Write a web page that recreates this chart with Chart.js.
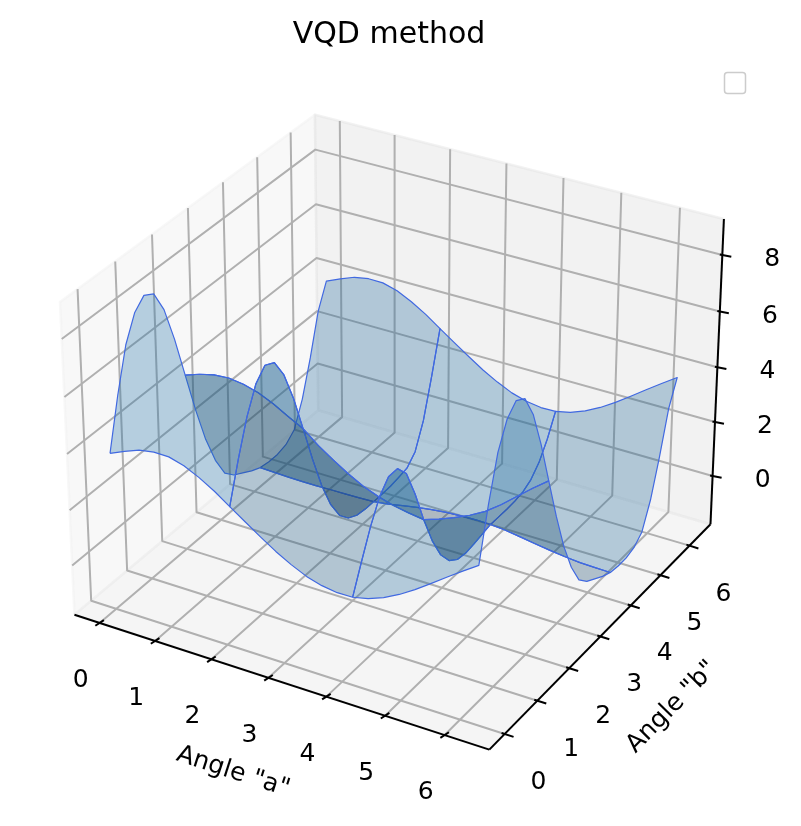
<!DOCTYPE html>
<html><head><meta charset="utf-8">
<script src="https://cdn.jsdelivr.net/npm/chart.js@4.4.0/dist/chart.umd.min.js"></script>
<style>html,body{margin:0;padding:0;background:#fff;overflow:hidden}canvas{display:block}</style>
</head><body>
<div style="width:801px;height:826px"><canvas id="c" width="801" height="826"></canvas></div>
<script>
// ---------------- data ----------------
const titleText = 'VQD method';
const xLabel = 'Angle "a"';
const yLabel = 'Angle "b"';
const xTicks = [0, 1, 2, 3, 4, 5, 6];
const yTicks = [0, 1, 2, 3, 4, 5, 6];
const zTicks = [0, 2, 4, 6, 8];
const xLim = [-0.314, 6.597];
const yLim = [-0.314, 6.597];
const zLim = [-1.59, 9.04];
// sample angles (degrees) along every drawn surface line
const gridDeg = [0,15,30,45,60,75,90,105,120,135,150,165,180,195,210,225,240,255,270,285,300,315,330,345,360];
// z along constant-a lines (a = 0 / 360 deg, 120 deg, 240 deg), as function of b
const zA0   = [3.82,5.6,7.1,7.95,8.3,8.1,7.3,6.0,4.47,2.95,1.6,0.55,-0.2,-0.55,-0.75,-0.95,-1.1,-1.15,-1.15,-1.05,-0.75,0.15,1.45,2.95,3.82];
const zA120 = [3.22,4.60,5.81,6.68,7.07,6.90,6.21,5.12,3.78,2.41,1.17,0.19,-0.49,-0.87,-1.05,-1.10,-1.10,-1.10,-1.08,-1.02,-0.95,-0.6,0.3,1.7,3.22];
const zA240 = [1.35,2.33,3.26,4.02,4.44,4.45,4.0,3.0,1.8,0.75,-0.05,-0.55,-0.8,-0.85,-0.8,-0.72,-0.65,-0.65,-0.65,-0.63,-0.56,-0.38,-0.01,0.58,1.35];
// z along constant-b lines (b = 0 / 360 deg, 120 deg, 240 deg), as function of a
const zB0   = [3.82,4.05,4.25,4.34,4.33,4.18,3.92,3.60,3.22,2.85,2.48,2.13,1.83,1.58,1.42,1.34,1.35,1.47,1.68,1.96,2.30,2.68,3.07,3.45,3.82];
const zB120 = [4.47,4.65,4.78,4.82,4.75,4.60,4.36,4.06,3.78,3.34,2.98,2.64,2.35,2.14,1.98,1.88,1.8,1.98,2.2,2.45,2.75,3.15,3.6,4.05,4.47];
const zB240 = [-1.1,-1.12,-1.14,-1.15,-1.15,-1.14,-1.13,-1.12,-1.1,-1.03,-0.93,-0.83,-0.75,-0.69,-0.66,-0.64,-0.65,-0.70,-0.78,-0.87,-0.95,-1.02,-1.07,-1.09,-1.1];

// ---------------- 3D view (matplotlib-like camera) ----------------
const ELEV = 30, AZIM = -60, DIST = 10;
const S = 4160, CX = 398.1, CY = 417.5;
const ASPECT = [4, 4, 3];
const an = Math.hypot(...ASPECT);
const boxA = ASPECT.map(v => v * 1.8294640721620434 / an);
const R = boxA.map(v => v / 2);
function pane(l){ const d = (l[1]-l[0])/48; return [l[0]-d, l[1]+d]; }
const PX = pane(xLim), PY = pane(yLim), PZ = pane(zLim);
const el = ELEV*Math.PI/180, az = AZIM*Math.PI/180;
const w = [Math.cos(el)*Math.cos(az), Math.cos(el)*Math.sin(az), Math.sin(el)];
let u = [-w[1], w[0], 0]; const un = Math.hypot(...u); u = u.map(x => x/un);
const v = [w[1]*u[2]-w[2]*u[1], w[2]*u[0]-w[0]*u[2], w[0]*u[1]-w[1]*u[0]];
const dot = (a,b) => a[0]*b[0]+a[1]*b[1]+a[2]*b[2];
function proj(x, y, z){
  const p = [(x-PX[0])/(PX[1]-PX[0])*boxA[0]-R[0], (y-PY[0])/(PY[1]-PY[0])*boxA[1]-R[1], (z-PZ[0])/(PZ[1]-PZ[0])*boxA[2]-R[2]];
  const xv = dot(u,p), yv = dot(v,p), wd = dot(w,p);
  const den = DIST - wd;
  return {x: CX + S*xv/den, y: CY - S*yv/den, tz: 10/(wd-DIST)};
}

// ---------------- datasets ----------------
const datasets = [];
function lineDS(pts, color, width, order, extra){
  return Object.assign({data: pts.map(p => ({x:p.x, y:p.y})), showLine:true, pointRadius:0, pointHoverRadius:0,
    borderColor:color, borderWidth:width, backgroundColor:color, fill:false, order:order, tension:0,
    borderJoinStyle:'round', borderCapStyle:'butt'}, extra || {});
}
// panes
function paneDS(corners, col, order){
  const pts = corners.map(c => proj(c[0], c[1], c[2])); pts.push(pts[0]);
  datasets.push(lineDS(pts, col, 2.5, order, {fill:'shape', backgroundColor: col}));
}
paneDS([[PX[0],PY[0],PZ[0]],[PX[0],PY[1],PZ[0]],[PX[0],PY[1],PZ[1]],[PX[0],PY[0],PZ[1]]], 'rgba(242,242,242,0.5)', 1003);
paneDS([[PX[0],PY[1],PZ[0]],[PX[1],PY[1],PZ[0]],[PX[1],PY[1],PZ[1]],[PX[0],PY[1],PZ[1]]], 'rgba(230,230,230,0.5)', 1002);
paneDS([[PX[0],PY[0],PZ[0]],[PX[1],PY[0],PZ[0]],[PX[1],PY[1],PZ[0]],[PX[0],PY[1],PZ[0]]], 'rgba(236,236,236,0.5)', 1001);
// gridlines
const GRID = '#b0b0b0';
xTicks.forEach(t => datasets.push(lineDS([proj(t,PY[0],PZ[0]), proj(t,PY[1],PZ[0]), proj(t,PY[1],PZ[1])], GRID, 2, 900)));
yTicks.forEach(t => datasets.push(lineDS([proj(PX[1],t,PZ[0]), proj(PX[0],t,PZ[0]), proj(PX[0],t,PZ[1])], GRID, 2, 900)));
zTicks.forEach(t => datasets.push(lineDS([proj(PX[0],PY[0],t), proj(PX[0],PY[1],t), proj(PX[1],PY[1],t)], GRID, 2, 900)));
// axis lines
datasets.push(lineDS([proj(PX[0],PY[0],PZ[0]), proj(PX[1],PY[0],PZ[0])], '#000', 2, 800));
datasets.push(lineDS([proj(PX[1],PY[0],PZ[0]), proj(PX[1],PY[1],PZ[0])], '#000', 2, 800));
datasets.push(lineDS([proj(PX[1],PY[1],PZ[0]), proj(PX[1],PY[1],PZ[1])], '#000', 2, 800));
// tick marks
function seg(p, a, b){ return [{x:p.x+a[0], y:p.y+a[1]}, {x:p.x+b[0], y:p.y+b[1]}]; }
xTicks.forEach(t => datasets.push(lineDS(seg(proj(t,PY[0],PZ[0]), [-4.3,2.8], [4.3,-2.8]), '#000', 2, 800)));
yTicks.forEach(t => datasets.push(lineDS(seg(proj(PX[1],t,PZ[0]), [-3,-1], [9,2.8]), '#000', 2, 800)));
zTicks.forEach(t => datasets.push(lineDS(seg(proj(PX[1],PY[1],t), [-2.5,-0.5], [9,1.8]), '#000', 2, 800)));

// surface patches (3 x 3, perimeters through the sampled lines)
const Aline = [zA0, zA120, zA240, zA0], Bline = [zB0, zB120, zB240, zB0];
const rad = d => d*Math.PI/180;
const P3 = (ia, ib, z) => [rad(gridDeg[ia]), rad(gridDeg[ib]), z];
const polys = [];
for (let j = 0; j < 3; j++) for (let i = 0; i < 3; i++){
  const c0 = 8*i, r0 = 8*j, pts = [];
  for (let t = 0; t < 8; t++) pts.push(P3(c0+t, r0, Bline[j][c0+t]));
  for (let t = 0; t < 8; t++) pts.push(P3(c0+8, r0+t, Aline[i+1][r0+t]));
  for (let t = 0; t < 8; t++) pts.push(P3(c0+8-t, r0+8, Bline[j+1][c0+8-t]));
  for (let t = 0; t < 8; t++) pts.push(P3(c0, r0+8-t, Aline[i][r0+8-t]));
  polys.push(pts);
}
const light = [-0.6667, -0.6667, 0.3333];
const BASE = [31, 119, 180];
const surf = polys.map(pts => {
  const n = pts.length, p1 = pts[0], p2 = pts[Math.floor(n/3)], p3 = pts[Math.floor(2*n/3)];
  const v1 = [p1[0]-p2[0], p1[1]-p2[1], p1[2]-p2[2]], v2 = [p2[0]-p3[0], p2[1]-p3[1], p2[2]-p3[2]];
  const nn = [v1[1]*v2[2]-v1[2]*v2[1], v1[2]*v2[0]-v1[0]*v2[2], v1[0]*v2[1]-v1[1]*v2[0]];
  const nl = Math.hypot(...nn);
  const sh = dot(nn.map(x => x/nl), light);
  const f = 0.3 + 0.7*(sh+1)/2;
  const pr = pts.map(p => proj(p[0], p[1], p[2]));
  const tz = pr.reduce((s,q) => s+q.tz, 0)/pr.length;
  pr.push(pr[0]);
  return {pr, tz, fill: `rgba(${BASE[0]*f},${BASE[1]*f},${BASE[2]*f},0.3)`};
});
surf.sort((a,b) => b.tz - a.tz); // farthest first
surf.forEach((s, k) => datasets.push(lineDS(s.pr, '#4169e1', 1.2, 500-k, {fill:'shape', backgroundColor:s.fill})));

// ---------------- texts ----------------
const textPlugin = {
  id: 'texts3d',
  afterDraw(chart){
    const ctx = chart.ctx, sx = chart.scales.x, sy = chart.scales.y;
    const X = v => sx.getPixelForValue(v), Y = v => sy.getPixelForValue(v);
    ctx.save();
    ctx.fillStyle = '#000';
    ctx.textAlign = 'center';
    ctx.textBaseline = 'alphabetic';
    ctx.font = '30px "DejaVu Sans", sans-serif';
    ctx.fillText(titleText, X(389), Y(43));
    ctx.font = '25px "DejaVu Sans", sans-serif';
    xTicks.forEach(t => { const p = proj(t,PY[0],PZ[0]); ctx.fillText(String(t), X(p.x-19), Y(p.y+55+9)); });
    yTicks.forEach(t => { const p = proj(PX[1],t,PZ[0]); ctx.fillText(String(t), X(p.x+34), Y(p.y+46+9)); });
    zTicks.forEach(t => { const p = proj(PX[1],PY[1],t); ctx.fillText(String(t), X(p.x+50), Y(p.y+2+9)); });
    ctx.textBaseline = 'middle';
    ctx.save(); ctx.translate(X(233), Y(772)); ctx.rotate(18*Math.PI/180); ctx.fillText(xLabel, 0, 0); ctx.restore();
    ctx.save(); ctx.translate(X(672), Y(707)); ctx.rotate(-45.6*Math.PI/180); ctx.fillText(yLabel, 0, 0); ctx.restore();
    // empty legend frame
    ctx.beginPath();
    if (ctx.roundRect) ctx.roundRect(X(724.5), Y(72.5), 21, 21, 3); else ctx.rect(X(724.5), Y(72.5), 21, 21);
    ctx.fillStyle = 'rgba(255,255,255,0.8)'; ctx.fill();
    ctx.lineWidth = 1.5; ctx.strokeStyle = '#cccccc'; ctx.stroke();
    ctx.restore();
  }
};

new Chart(document.getElementById('c'), {
  type: 'scatter',
  data: {datasets},
  options: {
    responsive: false, animation: false, devicePixelRatio: 1,
    layout: {padding: 0},
    plugins: {legend: {display:false}, title: {display:false}, tooltip: {enabled:false}},
    events: [],
    scales: {
      x: {type:'linear', min:0, max:801, display:false},
      y: {type:'linear', min:0, max:826, reverse:true, display:false}
    }
  },
  plugins: [textPlugin]
});
</script>
</body></html>
